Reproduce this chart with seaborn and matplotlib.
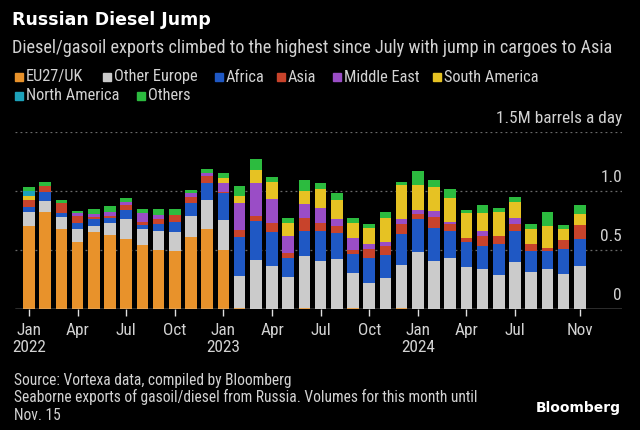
import pandas as pd
import matplotlib.pyplot as plt
import matplotlib.transforms as mtransforms
from matplotlib.patches import Rectangle
from matplotlib import font_manager
import seaborn as sns

# Monthly seaborne diesel/gasoil exports from Russia (M barrels a day), Jan 2022 - Nov 2024
months = pd.date_range("2022-01-01", "2024-11-01", freq="MS")

eu_uk = [0.70, 0.82, 0.68, 0.57, 0.655, 0.63, 0.595, 0.545, 0.50, 0.495, 0.61, 0.68,
         0.50, 0.005, 0.0, 0.0, 0.0, 0.008, 0.0, 0.0, 0.008, 0.0, 0.0, 0.008,
         0.0, 0.0, 0.0, 0.0, 0.0, 0.0, 0.0, 0.0, 0.0, 0.0, 0.0]
other_europe = [0.12, 0.095, 0.10, 0.11, 0.05, 0.095, 0.17, 0.13, 0.16, 0.155, 0.18, 0.245,
                0.255, 0.275, 0.415, 0.365, 0.275, 0.44, 0.41, 0.425, 0.30, 0.22, 0.265, 0.365,
                0.48, 0.41, 0.43, 0.36, 0.34, 0.29, 0.395, 0.31, 0.335, 0.295, 0.365]
africa = [0.045, 0.075, 0.035, 0.045, 0.055, 0.045, 0.075, 0.035, 0.06, 0.085, 0.105, 0.145,
          0.225, 0.33, 0.335, 0.285, 0.155, 0.21, 0.255, 0.215, 0.155, 0.215, 0.195, 0.265,
          0.28, 0.275, 0.23, 0.205, 0.195, 0.265, 0.265, 0.18, 0.16, 0.215, 0.225]
asia = [0.06, 0.05, 0.085, 0.065, 0.02, 0.02, 0.04, 0.03, 0.04, 0.065, 0.05, 0.06,
        0.01, 0.06, 0.04, 0.08, 0.045, 0.11, 0.065, 0.06, 0.04, 0.07, 0.07, 0.085,
        0.045, 0.095, 0.06, 0.035, 0.085, 0.06, 0.06, 0.06, 0.025, 0.075, 0.12]
middle_east = [0.0, 0.0, 0.0, 0.025, 0.025, 0.03, 0.03, 0.07, 0.04, 0.0, 0.035, 0.02,
               0.08, 0.23, 0.28, 0.20, 0.145, 0.12, 0.125, 0.065, 0.10, 0.045, 0.04, 0.04,
               0.03, 0.05, 0.02, 0.0, 0.04, 0.0, 0.055, 0.0, 0.0, 0.0, 0.0]
south_america = [0.035, 0.0, 0.0, 0.0, 0.0, 0.0, 0.0, 0.0, 0.0, 0.0, 0.0, 0.0,
                 0.04, 0.06, 0.11, 0.145, 0.11, 0.11, 0.16, 0.155, 0.13, 0.135, 0.20, 0.285,
                 0.22, 0.20, 0.20, 0.21, 0.15, 0.205, 0.135, 0.125, 0.18, 0.095, 0.095]
north_america = [0.04, 0.0, 0.0, 0.0, 0.0, 0.0, 0.0, 0.0, 0.0, 0.0, 0.0, 0.0,
                 0.0, 0.0, 0.0, 0.0, 0.0, 0.0, 0.0, 0.0, 0.0, 0.0, 0.0, 0.0,
                 0.0, 0.0, 0.0, 0.0, 0.0, 0.0, 0.0, 0.0, 0.0, 0.0, 0.0]
others = [0.03, 0.035, 0.02, 0.015, 0.04, 0.05, 0.03, 0.04, 0.045, 0.05, 0.03, 0.035,
          0.04, 0.085, 0.09, 0.045, 0.04, 0.095, 0.055, 0.06, 0.035, 0.035, 0.055, 0.03,
          0.115, 0.06, 0.08, 0.03, 0.075, 0.035, 0.04, 0.045, 0.12, 0.035, 0.075]

destinations = ["EU27/UK", "Other Europe", "Africa", "Asia", "Middle East",
                "South America", "North America", "Others"]
series = [eu_uk, other_europe, africa, asia, middle_east, south_america, north_america, others]
colors = ["#E8922B", "#CBCBCB", "#1F58C4", "#C8432B", "#9A4DC6", "#E6C223", "#1DA2BA", "#2CBB3F"]
palette = dict(zip(destinations, colors))

tick_idx = [0, 3, 6, 9, 12, 15, 18, 21, 24, 27, 30, 34]
tick_labels = ["Jan\n2022", "Apr", "Jul", "Oct", "Jan\n2023", "Apr", "Jul", "Oct",
               "Jan\n2024", "Apr", "Jul", "Nov"]
y_ticks = [0, 0.5, 1.0, 1.5]
y_labels = ["0", "0.5", "1.0", "1.5M barrels a day"]

# long-format table for seaborn
rows = []
for dest, vals in zip(destinations, series):
    for i, v in enumerate(vals):
        rows.append({"month": i, "dest": dest, "value": v})
df = pd.DataFrame(rows)

sns.set_theme(style="dark")
plt.rcParams["font.family"] = ["DejaVu Sans"]

# narrow face if one is installed, otherwise shrink DejaVu a bit
names = {f.name for f in font_manager.fontManager.ttflist}
narrow = None
for cand in ["Liberation Sans Narrow", "Roboto Condensed", "Open Sans Condensed"]:
    if cand in names:
        narrow = cand
        break
if narrow:
    fam = [narrow, "DejaVu Sans"]
    scale = 1.18
else:
    fam = ["DejaVu Sans"]
    scale = 0.93

bg = "black"
txt = "#d2d2d2"

fig = plt.figure(figsize=(6.4, 4.3), dpi=100, facecolor=bg)
ax = fig.add_axes([15 / 640, (430 - 309) / 430, (622 - 15) / 640, (309 - 132) / 430])
ax.set_facecolor(bg)

# seaborn stacks the last hue level at the bottom, so reverse the order
sns.histplot(data=df, x="month", weights="value", hue="dest",
             hue_order=destinations[::-1], palette=palette, multiple="stack",
             discrete=True, shrink=0.72, linewidth=0, alpha=1, legend=False, ax=ax)

ax.set_xlim(-0.86, 36.6)
ax.set_ylim(0, 1.5)
ax.set_xlabel("")
ax.set_ylabel("")
ax.set_yticks([])
ax.grid(False)
for s in ax.spines.values():
    s.set_visible(False)

# dotted gridlines with labels sitting above them at the right
trans = mtransforms.blended_transform_factory(ax.transAxes, ax.transData)
for y, lab in zip(y_ticks, y_labels):
    if y > 0:
        ax.axhline(y, color="#6a6a6a", lw=0.9, ls=(0, (1.5, 2.5)), zorder=0)
    ax.text(1.0, y + 0.055, lab, transform=trans, ha="right", va="bottom",
            color=txt, fontsize=10.5 * scale, family=fam)
ax.axhline(0, color="#e0e0e0", lw=1.0, zorder=5)

ax.set_xticks(tick_idx)
ax.set_xticklabels(tick_labels, fontsize=10.5 * scale, color=txt, linespacing=1.15,
                   family=fam)
ax.tick_params(axis="x", length=5, width=1, color="#e0e0e0", pad=5, bottom=True)

# titles
fig.text(12 / 640, 1 - 20 / 430, "Russian Diesel Jump", color="white", fontsize=12.5,
         fontweight="bold", family=["DejaVu Sans"], va="center", ha="left")
fig.text(12 / 640, 1 - 48 / 430,
         "Diesel/gasoil exports climbed to the highest since July with jump in cargoes to Asia",
         color=txt, fontsize=11.15 * scale * (1.0 if narrow else 0.95), va="center", ha="left",
         family=fam)

# legend drawn by hand in two rows
legend_pos = [(15, 77), (103, 77), (215, 77), (277, 77), (333, 77), (433, 77), (15, 96), (137, 96)]
for (lx, ly), dest, col in zip(legend_pos, destinations, colors):
    fig.patches.append(Rectangle((lx / 640, 1 - (ly + 4) / 430), 8 / 640, 8 / 430,
                                 transform=fig.transFigure, color=col))
    fig.text((lx + 11) / 640, 1 - ly / 430, dest, color=txt, fontsize=10.0 * scale,
             va="center", ha="left", family=fam)

# footer
fig.text(14 / 640, 1 - 381 / 430, "Source: Vortexa data, compiled by Bloomberg",
         color=txt, fontsize=9.5 * scale, va="center", ha="left", family=fam)
fig.text(14 / 640, 1 - 406 / 430,
         "Seaborne exports of gasoil/diesel from Russia. Volumes for this month until\nNov. 15",
         color=txt, fontsize=9.5 * scale, va="center", ha="left", linespacing=1.3, family=fam)
fig.text(621 / 640, 1 - 408 / 430, "Bloomberg", color="white", fontsize=10,
         fontweight="bold", family=["DejaVu Sans"], va="center", ha="right")

fig.savefig("out.png", dpi=100, facecolor=bg)
